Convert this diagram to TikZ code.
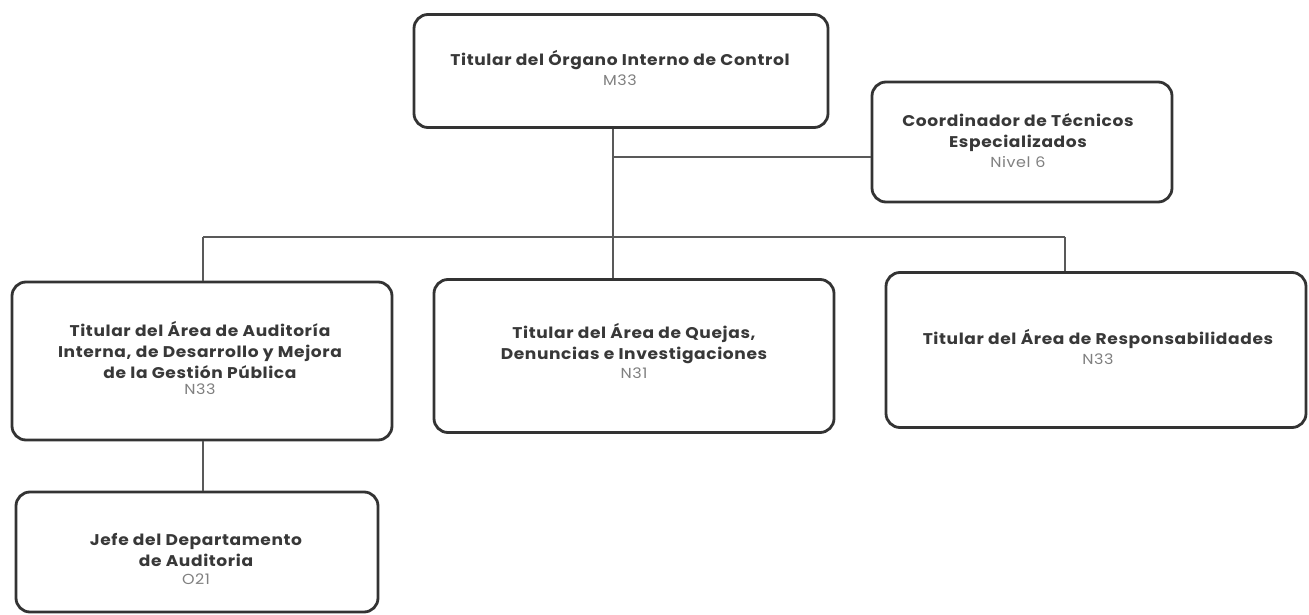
\documentclass[tikz,border=0pt]{standalone}
\usepackage{fontspec}
\setmainfont{Poppins}[FakeStretch=1.1,LetterSpace=4]
\begin{document}
\begin{tikzpicture}[x=1pt,y=-1pt,
  box/.style={draw=black!80,line width=2.8pt,rounded corners=14pt,fill=white,inner sep=0pt},
  conn/.style={draw=black!65,line width=1.2pt},
  ttl/.style={font=\fontsize{15.5}{21}\selectfont\bfseries,text=black!78,align=center},
  lvl/.style={font=\fontsize{14.5}{18}\selectfont,text=black!50}]
\useasboundingbox[fill=white] (0,0) rectangle (1309,615);
% boxes
\node[box,minimum width=414pt,minimum height=113pt] (top) at (621,71) {};
\node[box,minimum width=300pt,minimum height=120pt] (coord) at (1022,142) {};
\node[box,minimum width=380pt,minimum height=158pt] (left) at (202,361) {};
\node[box,minimum width=400pt,minimum height=153pt] (mid) at (634,356) {};
\node[box,minimum width=420pt,minimum height=155pt] (right) at (1096,350) {};
\node[box,minimum width=362pt,minimum height=120pt] (bot) at (197,552) {};
% texts
\node[ttl] (ttop) at (620,60) {Titular del Órgano Interno de Control};
\node[lvl] (ltop) at (620,80) {M33};
\node[ttl] (tcoord) at (1018,133) {Coordinador de Técnicos\\Especializados};
\node[lvl] (lcoord) at (1018,162) {Nivel 6};
\node[ttl] (tleft) at (200,350) {Titular del Área de Auditoría\\Interna, de Desarrollo y Mejora\\de la Gestión Pública};
\node[lvl] (lleft) at (200,389) {N33};
\node[ttl] (tmid) at (634,344) {Titular del Área de Quejas,\\Denuncias e Investigaciones};
\node[lvl] (lmid) at (634,373) {N31};
\node[ttl] (tright) at (1098,339) {Titular del Área de Responsabilidades};
\node[lvl] (lright) at (1098,359) {N33};
\node[ttl] (tbot) at (196,550) {Jefe del Departamento\\de Auditoria};
\node[lvl] (lbot) at (196,579) {O21};
% connectors
\coordinate (bus) at (613,237);
\coordinate (busL) at (203,237);
\coordinate (busR) at (1065,237);
\coordinate (cj) at (613,157);
\draw[conn] (top.south -| bus) -- (bus);
\draw[conn] (cj) -- (cj -| coord.west);
\draw[conn] (busL) -- (busR);
\draw[conn] (busL) -- (busL |- left.north);
\draw[conn] (bus) -- (bus |- mid.north);
\draw[conn] (busR) -- (busR |- right.north);
\draw[conn] (left.south -| busL) -- (busL |- bot.north);
\end{tikzpicture}
\end{document}
